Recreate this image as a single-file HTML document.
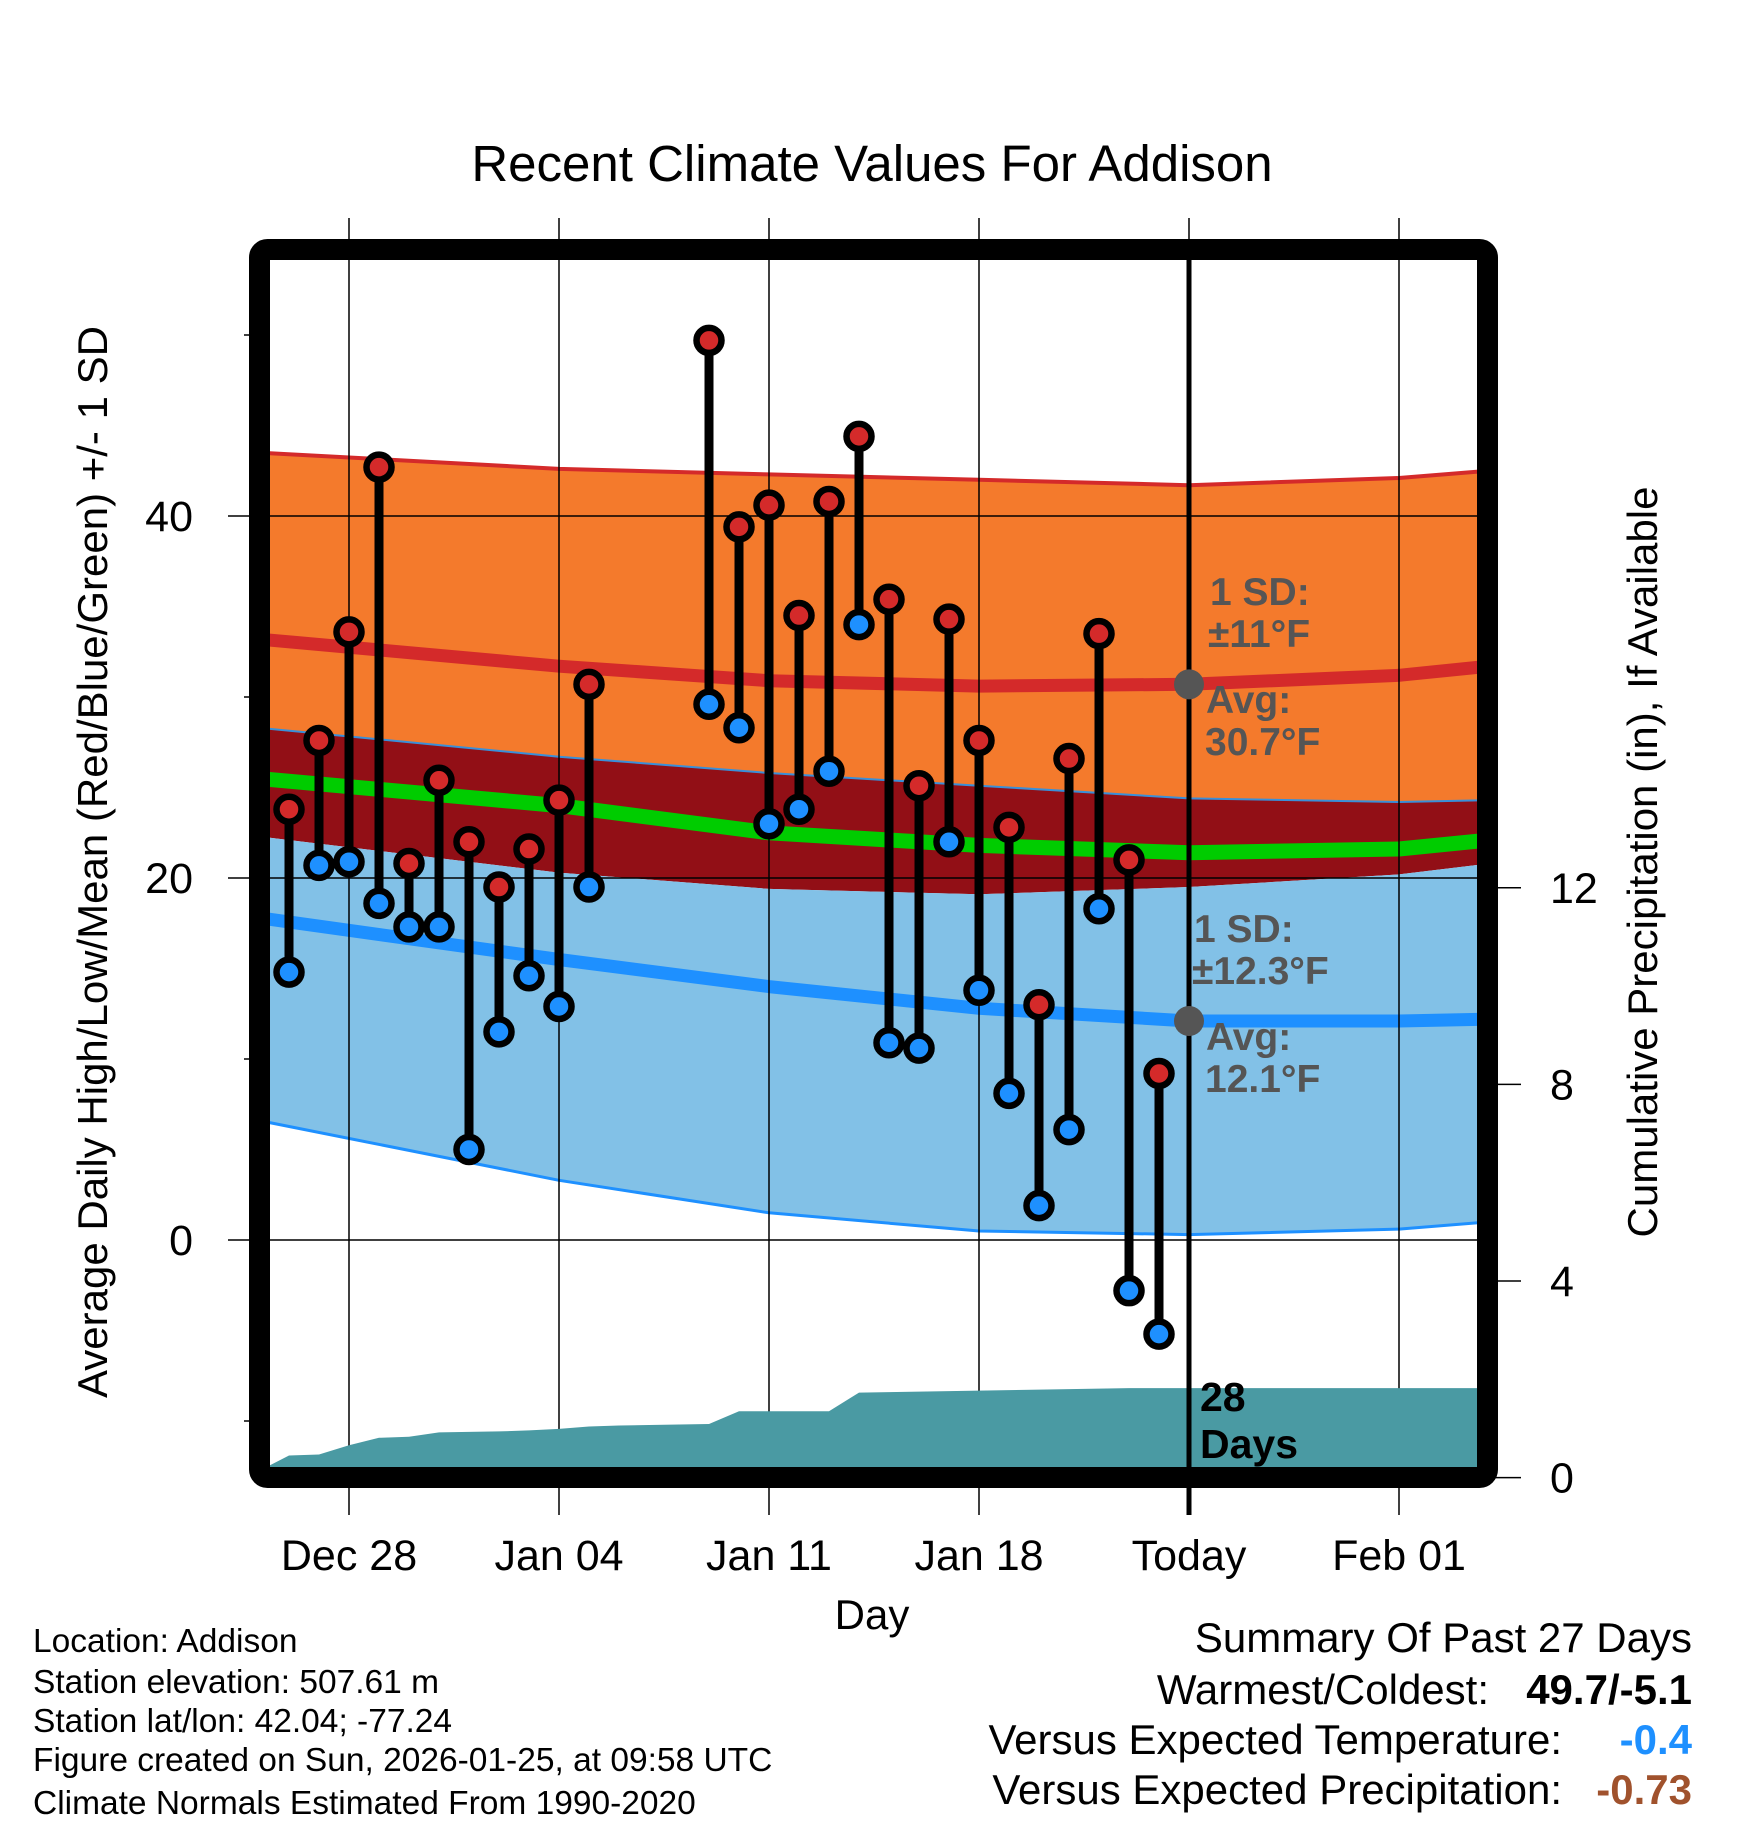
<!DOCTYPE html>
<html><head><meta charset="utf-8"><style>
html,body{margin:0;padding:0;background:#fff;}
svg{display:block;font-family:"Liberation Sans",sans-serif;}
</style></head><body>
<svg id="chart" width="1748" height="1828" viewBox="0 0 1748 1828" xmlns="http://www.w3.org/2000/svg">
<defs><clipPath id="plotclip"><rect x="270" y="260" width="1208" height="1208"/></clipPath></defs>
<rect width="1748" height="1828" fill="#fff"/>
<text x="872" y="181" font-size="51" text-anchor="middle">Recent Climate Values For Addison</text>
<g id="bands" clip-path="url(#plotclip)"></g>
<g id="grid"></g>
<g id="precip" clip-path="url(#plotclip)"></g>
<g id="marks"></g>
<g id="annot" font-weight="bold" font-size="39" fill="#555">
<text x="1210" y="605">1 SD:</text>
<text x="1208" y="647">±11°F</text>
<text x="1206" y="713">Avg:</text>
<text x="1205" y="755">30.7°F</text>
<text x="1194" y="942">1 SD:</text>
<text x="1192" y="984">±12.3°F</text>
<text x="1206" y="1050">Avg:</text>
<text x="1205" y="1092">12.1°F</text>
</g>
<g font-weight="bold" font-size="41" fill="#000">
<text x="1200" y="1411">28</text>
<text x="1200" y="1458">Days</text>
</g>
<rect x="259.5" y="249.5" width="1228" height="1228" rx="8" fill="none" stroke="#000" stroke-width="21"/>
<g id="axes" font-size="43"></g>
<text x="872" y="1629" font-size="42" text-anchor="middle">Day</text>
<text transform="translate(107,862) rotate(-90)" font-size="42" text-anchor="middle">Average Daily High/Low/Mean (Red/Blue/Green) +/- 1 SD</text>
<text transform="translate(1657,862) rotate(-90)" font-size="42" text-anchor="middle">Cumulative Precipitation (in), If Available</text>
<g font-size="33.5">
<text x="33" y="1652">Location: Addison</text>
<text x="33" y="1693">Station elevation: 507.61 m</text>
<text x="33" y="1732">Station lat/lon: 42.04; -77.24</text>
<text x="33" y="1771">Figure created on Sun, 2026-01-25, at 09:58 UTC</text>
<text x="33" y="1814">Climate Normals Estimated From 1990-2020</text>
</g>
<g font-size="42" text-anchor="end">
<text x="1692" y="1652">Summary Of Past 27 Days</text>
<text x="1489" y="1704">Warmest/Coldest:</text>
<text x="1692" y="1704" font-weight="bold">49.7/-5.1</text>
<text x="1562" y="1754">Versus Expected Temperature:</text>
<text x="1692" y="1754" font-weight="bold" fill="#1e90ff">-0.4</text>
<text x="1562" y="1804">Versus Expected Precipitation:</text>
<text x="1692" y="1804" font-weight="bold" fill="#a0522d">-0.73</text>
</g>
</svg>
<script>
// day index: 0 = Dec 25
const obsDays = [1,2,3,4,5,6,7,8,9,10,11,15,16,17,18,19,20,21,22,23,24,25,26,27,28,29,30];
const highs = [23.8,27.6,33.6,42.7,20.8,25.4,22.0,19.5,21.6,24.3,30.7,49.7,39.4,40.6,34.5,40.8,44.4,35.4,25.1,34.3,27.6,22.8,13.0,26.6,33.5,21.0,9.2];
const lows  = [14.8,20.7,20.9,18.6,17.3,17.3,5.0,11.5,14.6,12.9,19.5,29.6,28.3,23.0,23.8,25.9,34.0,10.9,10.6,22.0,13.8,8.1,1.9,6.1,18.3,-2.8,-5.2];
const normDays = [0,10,17,24,31,38,41];
const hiTop  = [43.5,42.6,42.3,42.0,41.7,42.1,42.5];
const hiMean = [33.2,31.7,30.9,30.6,30.7,31.2,31.7];
const hiBot  = [28.3,26.7,25.8,25.1,24.4,24.2,24.3];
const meanT  = [25.5,24.0,22.5,21.8,21.4,21.6,22.1];
const loTop  = [22.3,20.3,19.4,19.1,19.5,20.2,20.8];
const loMean = [17.8,15.5,14.0,12.8,12.1,12.1,12.2];
const loBot  = [6.6,3.3,1.5,0.5,0.3,0.6,1.0];
const precipDays = [0.2,1,2,3,4,5,6,7,8,9,10,11,12,13,14,15,16,17,18,19,20,21,22,23,24,25,26,27,28,29,30,41];
const precipCum  = [0.2,0.45,0.47,0.66,0.81,0.83,0.92,0.93,0.94,0.96,0.99,1.04,1.06,1.07,1.08,1.09,1.35,1.35,1.35,1.35,1.73,1.74,1.75,1.76,1.77,1.78,1.79,1.80,1.81,1.82,1.82,1.82];
const xTickDays = [3,10,17,24,31,38];
const xTickLabels = ["Dec 28","Jan 04","Jan 11","Jan 18","Today","Feb 01"];
const yTicks = [0,20,40];
const yMinor = [-10,10,30,50];
const y2Ticks = [0,4,8,12];
const todayDay = 31;

const NS = "http://www.w3.org/2000/svg";
const X = d => 349 + (d - 3) * 30;
const Y = v => 1240 - v * 18.1;
const YP = v => 1477.6 - v * 49.15;
function mk(tag, attrs, parent){const e=document.createElementNS(NS,tag);for(const k in attrs)e.setAttribute(k,attrs[k]);parent.appendChild(e);return e;}
const g = id => document.getElementById(id);

function pts(days, vals, yf){return days.map((d,i)=>X(d).toFixed(1)+","+yf(vals[i]).toFixed(1));}
function band(top, bot, fill, name){
  const p = pts(normDays, top, Y).concat(pts(normDays, bot, Y).reverse());
  const e = mk("polygon",{points:p.join(" "),fill:fill},g("bands"));
  
  
}
function line(vals, color, w, name){
  const e = mk("polyline",{points:pts(normDays, vals, Y).join(" "),fill:"none",stroke:color,"stroke-width":w,"stroke-linejoin":"round"},g("bands"));
  
  
}
band(hiTop, hiBot, "#f47a2c", "high-sd-band");
band(hiBot, loTop, "#920f16", "overlap-band");
band(loTop, loBot, "#82c1e7", "low-sd-band");
line(hiTop, "#d42a2a", 4, "high-plus-sd-line");
line(hiBot, "#3a8fd8", 2, "high-minus-sd-line");
line(loBot, "#1e90ff", 3, "low-minus-sd-line");
line(hiMean, "#d42a2a", 13, "normal-high-line");
line(loMean, "#1e90ff", 13, "normal-low-line");
line(meanT, "#00cc00", 15, "normal-mean-line");

xTickDays.forEach(d=>{
  const e = mk("line",{x1:X(d),x2:X(d),y1:218,y2:1515,stroke:"#000","stroke-width":1.5},g("grid"));
  
  
});
yTicks.forEach(v=>{
  const e = mk("line",{x1:228,x2:1478,y1:Y(v),y2:Y(v),stroke:"#000","stroke-width":1.5},g("grid"));
  
  
});
yMinor.forEach(v=>{
  const e = mk("line",{x1:244,x2:260,y1:Y(v),y2:Y(v),stroke:"#000","stroke-width":1.5},g("grid"));
  
  
});
y2Ticks.forEach(v=>{
  const e = mk("line",{x1:1490,x2:1521,y1:YP(v),y2:YP(v),stroke:"#000","stroke-width":1.5},g("grid"));
  
  
});

{
  const p = pts(precipDays, precipCum, YP);
  p.push(X(precipDays[precipDays.length-1]).toFixed(1)+",1490");
  p.push(X(precipDays[0]).toFixed(1)+",1490");
  const e = mk("polygon",{points:p.join(" "),fill:"#4a9aa3"},g("precip"));
  
  
}

{
  const e = mk("line",{x1:X(todayDay),x2:X(todayDay),y1:260,y2:1515,stroke:"#000","stroke-width":5},g("marks"));
  
  
}
[30.7,12.1].forEach(v=>{
  const e = mk("circle",{cx:X(todayDay),cy:Y(v),r:15,fill:"#555"},g("marks"));
  
  
});

obsDays.forEach((d,i)=>{
  const s = mk("line",{x1:X(d),x2:X(d),y1:Y(highs[i]),y2:Y(lows[i]),stroke:"#000","stroke-width":9},g("marks"));
  
  
});
obsDays.forEach((d,i)=>{
  const h = mk("circle",{cx:X(d),cy:Y(highs[i]),r:12.5,fill:"#d42a2a",stroke:"#000","stroke-width":6.5},g("marks"));
  
  
  const l = mk("circle",{cx:X(d),cy:Y(lows[i]),r:12.5,fill:"#1e90ff",stroke:"#000","stroke-width":6.5},g("marks"));
  
  
});

xTickDays.forEach((d,i)=>{
  const t = mk("text",{x:X(d),y:1570,"text-anchor":"middle"},g("axes"));
  t.textContent = xTickLabels[i];
  
  
});
yTicks.forEach(v=>{
  const t = mk("text",{x:193,y:Y(v)+15,"text-anchor":"end"},g("axes"));
  t.textContent = String(v);
  
  
});
y2Ticks.forEach(v=>{
  const t = mk("text",{x:1550,y:YP(v)+15,"text-anchor":"start"},g("axes"));
  t.textContent = String(v);
  
  
});
</script>
</body></html>
